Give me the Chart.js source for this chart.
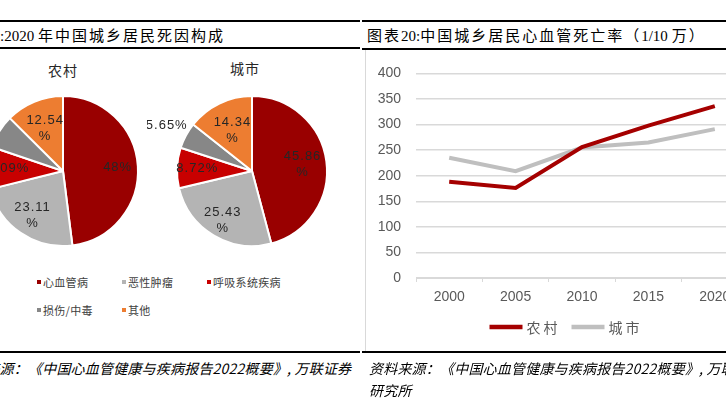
<!DOCTYPE html>
<html lang="zh-CN"><head><meta charset="utf-8">
<title>中国城乡居民死因构成与心血管死亡率</title>
<script src="https://cdn.jsdelivr.net/npm/chart.js@4.4.1/dist/chart.umd.min.js"></script>
<style>
html,body{margin:0;padding:0;background:#fff;}
body{width:726px;height:398px;overflow:hidden;position:relative;font-family:'Noto Sans CJK SC',sans-serif;color:#000;}
.a{position:absolute;white-space:nowrap;}
.rule{position:absolute;height:2px;background:#000;}
.title{font-size:15px;line-height:20px;top:25px;font-family:'Liberation Serif','Noto Sans CJK SC',serif;color:#000;}
.title .c{letter-spacing:2px;font-family:'Noto Sans CJK SC',sans-serif;}
.src{font-size:14px;line-height:20px;font-style:italic;letter-spacing:0.2px;color:#000;}
.pt{font-size:14px;line-height:18px;color:#262626;width:80px;text-align:center;letter-spacing:1px;}
.lg{position:absolute;font-size:11px;line-height:14px;color:#404040;white-space:nowrap;letter-spacing:0.3px;}
.lg i{position:absolute;left:-6px;top:5px;width:4px;height:4px;}
canvas{position:absolute;}
</style></head>
<body>
<div class="rule" style="left:0;width:360px;top:20px"></div>
<div class="rule" style="left:0;width:360px;top:47px"></div>
<div class="rule" style="left:362px;width:364px;top:20px"></div>
<div class="rule" style="left:362px;width:364px;top:48px"></div>
<div class="rule" style="left:0;width:360px;top:351px"></div>
<div class="rule" style="left:362px;width:364px;top:351px"></div>

<div class="a title" style="left:0">:2020 <span class="c">年中国城乡居民死因构成</span></div>
<div class="a title" style="left:367px"><span class="c">图表</span>20:<span class="c">中国城乡居民心血管死亡率（</span>1/10 <span class="c">万）</span></div>

<div id="pieTitle0" class="a pt" style="left:23px;top:61px"></div>
<div id="pieTitle1" class="a pt" style="left:205px;top:59px"></div>

<canvas id="pie0" width="220" height="170" style="left:-42px;top:86px"></canvas>
<canvas id="pie1" width="220" height="170" style="left:147px;top:86px"></canvas>
<div id="pieLegend"></div>

<div class="a" style="left:365px;top:50px;width:1px;height:301px;background:#d9d9d9"></div>
<canvas id="line" width="400" height="301" style="left:366px;top:50px"></canvas>

<div class="a src" style="left:-43px;top:358px">资料来源：《中国心血管健康与疾病报告2022概要》, 万联证券</div>
<div class="a src" style="left:369px;top:358px">资料来源：《中国心血管健康与疾病报告2022概要》, 万联证券</div>
<div class="a src" style="left:369px;top:380px">研究所</div>

<script>
// ---------- data ----------
const causes = ['心血管病', '恶性肿瘤', '呼吸系统疾病', '损伤/中毒', '其他'];
const ruralShares = [48, 23.11, 9.09, 7.26, 12.54];
const urbanShares = [45.86, 25.43, 8.72, 5.65, 14.34];
const pieTitles = ['农村', '城市'];

const years = ['2000', '2005', '2010', '2015', '2020'];
const ruralRate = [188, 176, 256, 298, 336];
const urbanRate = [235, 209, 255, 265, 291];
const seriesNames = ['农村', '城市'];
const yMin = 0, yMax = 400, yStep = 50;

// ---------- styles ----------
const causeColors = ['#990000', '#B4B4B4', '#C80000', '#878787', '#ED7D31'];
const pieLabelRadial = [
  [0.73, 0.72, 0.73, 1.30, 0.62],
  [0.68, 0.76, 0.73, 1.29, 0.60]
];
const pieLabelWrap = [
  [false, true, false, false, true],
  [true, true, false, false, true]
];
const lineColors = ['#A50000', '#BFBFBF'];

// ---------- pie titles & legend (text) ----------
pieTitles.forEach((t, i) => { document.getElementById('pieTitle' + i).textContent = t; });
const legendCols = [43, 128, 213], legendRows = [275, 303];
const lgBox = document.getElementById('pieLegend');
causes.forEach((c, i) => {
  const d = document.createElement('div');
  d.className = 'lg';
  d.style.left = legendCols[i % 3] + 'px';
  d.style.top = legendRows[Math.floor(i / 3)] + 'px';
  const sq = document.createElement('i');
  sq.style.background = causeColors[i];
  d.appendChild(sq);
  d.appendChild(document.createTextNode(c));
  lgBox.appendChild(d);
});

// ---------- plugins ----------
const pieLabels = {
  id: 'pieLabels',
  afterDatasetsDraw(chart, args, opts) {
    const ctx = chart.ctx;
    const meta = chart.getDatasetMeta(0);
    const vals = chart.data.datasets[0].data;
    ctx.save();
    ctx.font = '13px "Liberation Sans", Arial, sans-serif';
    ctx.letterSpacing = '1px';
    ctx.fillStyle = '#262626';
    ctx.textAlign = 'center';
    ctx.textBaseline = 'middle';
    meta.data.forEach((arc, i) => {
      const p = arc.getProps(['x', 'y', 'startAngle', 'endAngle', 'outerRadius'], true);
      const mid = (p.startAngle + p.endAngle) / 2;
      const r = p.outerRadius * opts.radial[i];
      const cx = p.x + Math.cos(mid) * r;
      const cy = p.y + Math.sin(mid) * r;
      if (opts.wrap[i]) {
        ctx.fillText(String(vals[i]), cx, cy - 8);
        ctx.fillText('%', cx, cy + 8);
      } else {
        ctx.fillText(vals[i] + '%', cx, cy);
      }
    });
    ctx.restore();
  }
};

function makePie(id, shares, idx) {
  return new Chart(document.getElementById(id), {
    type: 'pie',
    data: {
      labels: causes,
      datasets: [{
        data: shares,
        backgroundColor: causeColors,
        borderColor: '#ffffff',
        borderWidth: 2,
        hoverOffset: 0,
        offset: 0
      }]
    },
    options: {
      responsive: false,
      animation: false,
      events: [],
      layout: { padding: { left: 29, right: 39, top: 9, bottom: 9 } },
      plugins: {
        legend: { display: false },
        tooltip: { enabled: false },
        pieLabels: { radial: pieLabelRadial[idx], wrap: pieLabelWrap[idx] }
      }
    },
    plugins: [pieLabels]
  });
}
makePie('pie0', ruralShares, 0);
makePie('pie1', urbanShares, 1);

const lineLegend = {
  id: 'lineLegend',
  afterDraw(chart, args, opts) {
    const ctx = chart.ctx;
    ctx.save();
    ctx.font = '14px "Noto Sans CJK SC", sans-serif';
    ctx.letterSpacing = '3px';
    ctx.textBaseline = 'middle';
    ctx.textAlign = 'left';
    const lineLen = 33, gap = 4, itemGap = 11;
    const items = chart.data.datasets.map(ds => ({ ds, w: ctx.measureText(ds.label).width }));
    let total = 0;
    items.forEach((it, i) => { total += lineLen + gap + it.w + (i < items.length - 1 ? itemGap : 0); });
    let x = chart.width / 2 - total / 2;
    const y = opts.y;
    items.forEach(it => {
      ctx.strokeStyle = it.ds.borderColor;
      ctx.lineWidth = 4.5;
      ctx.beginPath();
      ctx.moveTo(x, y);
      ctx.lineTo(x + lineLen, y);
      ctx.stroke();
      ctx.fillStyle = '#595959';
      ctx.fillText(it.ds.label, x + lineLen + gap, y + 1);
      x += lineLen + gap + it.w + itemGap;
    });
    ctx.restore();
  }
};

new Chart(document.getElementById('line'), {
  type: 'line',
  data: {
    labels: years,
    datasets: [
      { label: seriesNames[0], data: ruralRate, borderColor: lineColors[0], backgroundColor: lineColors[0], borderWidth: 4, pointRadius: 0, tension: 0, fill: false },
      { label: seriesNames[1], data: urbanRate, borderColor: lineColors[1], backgroundColor: lineColors[1], borderWidth: 4, pointRadius: 0, tension: 0, fill: false }
    ]
  },
  options: {
    responsive: false,
    animation: false,
    events: [],
    layout: { padding: { top: 20, right: 18, left: 0, bottom: 33 } },
    scales: {
      x: {
        offset: true,
        grid: { display: true, offset: true, drawOnChartArea: false, drawTicks: true, tickLength: 4, color: '#d9d9d9', lineWidth: 1 },
        border: { display: true, color: '#d9d9d9', width: 1 },
        ticks: { color: '#595959', font: { family: '"Liberation Sans", Arial, sans-serif', size: 14 }, padding: 7, maxRotation: 0 },
        afterFit(s) { s.height = 40; }
      },
      y: {
        min: yMin, max: yMax,
        ticks: { stepSize: yStep, color: '#595959', font: { family: '"Liberation Sans", Arial, sans-serif', size: 14 }, padding: 15 },
        grid: { color: '#d9d9d9', lineWidth: 1.5, drawTicks: false },
        border: { display: false },
        afterFit(s) { s.width = 50; }
      }
    },
    plugins: {
      legend: { display: false },
      tooltip: { enabled: false },
      lineLegend: { y: 277 }
    }
  },
  plugins: [lineLegend]
});
</script>
</body></html>
